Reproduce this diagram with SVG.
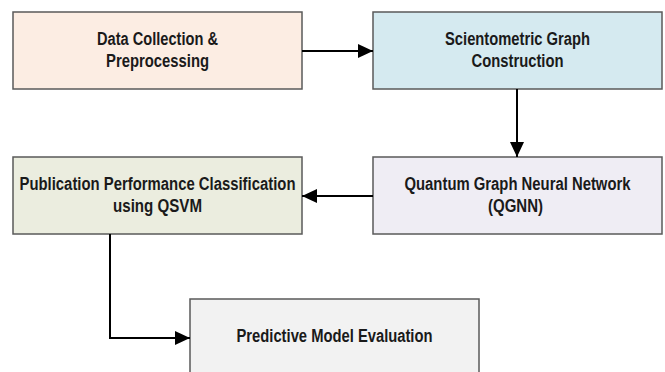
<svg xmlns="http://www.w3.org/2000/svg" width="665" height="372" viewBox="0 0 665 372">
<style>
.box{stroke:#5a5a5a;stroke-width:1.5}
.t{font-family:"Liberation Sans",Arial,sans-serif;font-weight:bold;font-size:17.5px;fill:#1a1a1a;text-anchor:middle}
.c{fill:none;stroke:#000;stroke-width:2}
</style>
<defs>
<marker id="ah" markerUnits="userSpaceOnUse" markerWidth="16" markerHeight="14" refX="15" refY="7" orient="auto">
<path d="M0,0 L15,7 L0,14 Z" fill="#000"/>
</marker>
</defs>
<rect width="665" height="372" fill="#fff"/>
<g id="n1">
<rect class="box" x="13" y="12" width="289" height="77" fill="#FCEDE3"/>
<text class="t" x="157.5" y="45" textLength="121" lengthAdjust="spacingAndGlyphs">Data Collection &amp;</text>
<text class="t" x="157.5" y="67" textLength="103" lengthAdjust="spacingAndGlyphs">Preprocessing</text>
</g>
<g id="n2">
<rect class="box" x="373" y="12" width="289" height="77" fill="#D5EAF0"/>
<text class="t" x="517.5" y="45" textLength="145" lengthAdjust="spacingAndGlyphs">Scientometric Graph</text>
<text class="t" x="517.5" y="67" textLength="92" lengthAdjust="spacingAndGlyphs">Construction</text>
</g>
<g id="n3">
<rect class="box" x="373" y="157" width="289" height="77" fill="#EFEDF4"/>
<text class="t" x="517.5" y="190" textLength="226" lengthAdjust="spacingAndGlyphs">Quantum Graph Neural Network</text>
<text class="t" x="515.5" y="212" textLength="55" lengthAdjust="spacingAndGlyphs">(QGNN)</text>
</g>
<g id="n4">
<rect class="box" x="13" y="157" width="289" height="77" fill="#EBEDDF"/>
<text class="t" x="157.5" y="190" textLength="276" lengthAdjust="spacingAndGlyphs">Publication Performance Classification</text>
<text class="t" x="157.5" y="212" textLength="89" lengthAdjust="spacingAndGlyphs">using QSVM</text>
</g>
<g id="n5">
<rect class="box" x="190" y="299" width="289" height="77" fill="#F2F2F2"/>
<text class="t" x="334.5" y="342" textLength="196" lengthAdjust="spacingAndGlyphs">Predictive Model Evaluation</text>
</g>
<g id="connectors">
<line class="c" x1="302" y1="51" x2="373" y2="51" marker-end="url(#ah)"/>
<line class="c" x1="517" y1="89" x2="517" y2="157" marker-end="url(#ah)"/>
<line class="c" x1="373" y1="196" x2="302" y2="196" marker-end="url(#ah)"/>
<polyline class="c" points="110,234 110,338 190,338" marker-end="url(#ah)"/>
</g>
</svg>
